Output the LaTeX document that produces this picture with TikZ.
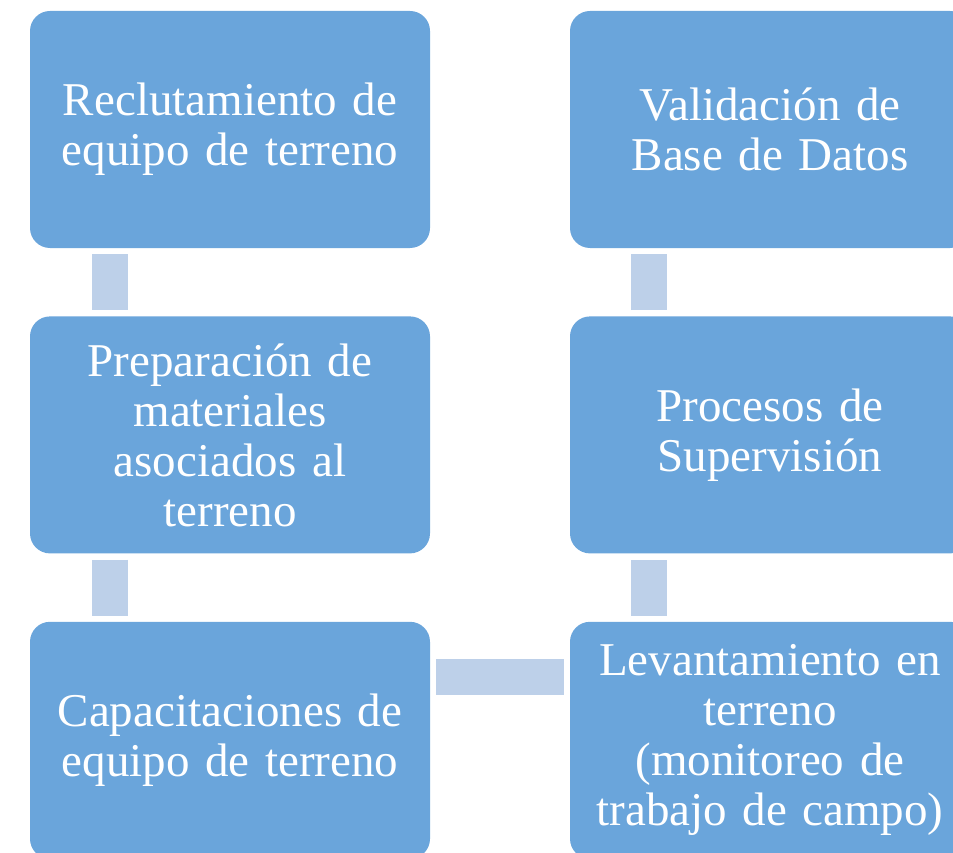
\documentclass[tikz,border=0pt]{standalone}
\usepackage{fontspec}
\setmainfont{Liberation Serif}
\usepackage{tikz}
\usetikzlibrary{positioning}
\definecolor{boxblue}{RGB}{106,165,219}
\definecolor{linkblue}{RGB}{189,208,233}

\begin{document}
\begin{tikzpicture}[
    x=1pt, y=-1pt,
    node distance=68pt,
    box/.style={rectangle, fill=boxblue, text=white, text width=385pt, align=center,
        minimum width=400pt, minimum height=237pt, inner sep=0pt, rounded corners=20pt,
        font=\fontsize{47}{50}\selectfont},
    link/.style={draw=linkblue, line width=36pt, shorten <=6pt, shorten >=6pt}
]
\useasboundingbox (0,0) rectangle (953,853);

\node[box] (recl) at (230,129.5) {Reclutamiento de\\equipo de terreno};
\node[box, below=of recl] (prep) {Preparación de\\materiales\\asociados al\\terreno};
\node[box, below=of prep] (capa) {Capacitaciones de\\equipo de terreno};

\node[box] (vali) at (770,129.5) {Validación de\\Base de Datos};
\node[box, below=of vali] (proc) {Procesos de\\Supervisión};
\node[box, below=of proc] (leva) {Levantamiento en\\terreno\\(monitoreo de\\trabajo de campo)};

\draw[link] ([xshift=-120pt]recl.south) -- ([xshift=-120pt]prep.north);
\draw[link] ([xshift=-120pt]prep.south) -- ([xshift=-120pt]capa.north);
\draw[link] ([yshift=63.5pt]capa.east) -- ([yshift=63.5pt]leva.west);
\draw[link] ([xshift=-121.5pt]leva.north) -- ([xshift=-121.5pt]proc.south);
\draw[link] ([xshift=-121.5pt]proc.north) -- ([xshift=-121.5pt]vali.south);

\end{tikzpicture}
\end{document}
